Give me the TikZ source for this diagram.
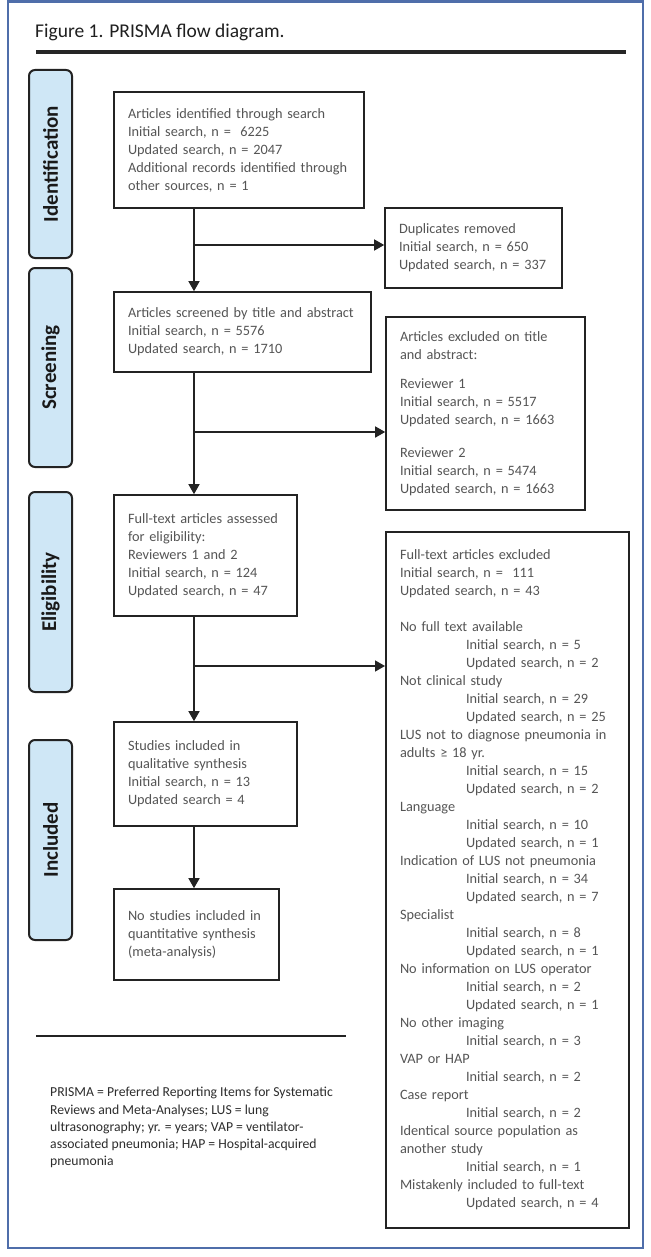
\documentclass[tikz,border=0pt]{standalone}
\usepackage{fontspec}
\setmainfont{Carlito}
\usepackage{graphicx}
\usetikzlibrary{arrows.meta}
\definecolor{frameblue}{RGB}{79,110,170}
\definecolor{stagefill}{RGB}{207,231,246}
\definecolor{txtgray}{RGB}{85,85,85}
\definecolor{linedark}{RGB}{35,35,35}
\definecolor{notegray}{RGB}{45,45,45}
\newcommand{\indt}{\hspace*{66pt}}
\begin{document}
\begin{tikzpicture}[x=1pt,y=-1pt,
  box/.style={draw=linedark, line width=1.6pt, inner xsep=14pt, inner ysep=0pt, align=left, text=txtgray, font=\fontsize{14.3}{18}\selectfont},
  stage/.style={draw=linedark, fill=stagefill, line width=2pt, rounded corners=6pt, minimum width=43pt, inner sep=0pt, font=\fontsize{21}{24}\selectfont\bfseries, text=black!90},
  arr/.style={draw=linedark, line width=1.5pt, -{Triangle[length=10pt,width=11pt]}},
  rulestyle/.style={draw=linedark, line width=1.3pt}
]
\useasboundingbox (0,0) rectangle (650,1257);
\fill[white] (0,0) rectangle (650,1257);
\draw[frameblue, line width=2.5pt] (8,1.5) rectangle (643,1248);

% title
\node[anchor=base west, inner sep=0pt, font=\fontsize{19.5}{22}\selectfont, text=black!88] (title) at (35,38) {Figure 1. PRISMA flow diagram.};
\draw[black!85, line width=3.6pt] (36,52) -- (626,52);

% stages
\node[stage, minimum height=188pt] (s1) at (50.5,164) {\rotatebox{90}{Identification}};
\node[stage, minimum height=199pt] (s2) at (50.5,367.5) {\rotatebox{90}{Screening}};
\node[stage, minimum height=200pt] (s3) at (50.5,592) {\rotatebox{90}{Eligibility}};
\node[stage, minimum height=200pt] (s4) at (50.5,840) {\rotatebox{90}{Included}};

% main boxes
\node[box, text width=222pt, minimum height=116pt] (b1) at (239,150) {Articles identified through search\\Initial search, n =\ \ 6225\\Updated search, n = 2047\\Additional records identified through\\other sources, n = 1};
\node[box, text width=229pt, minimum height=80pt] (b2) at (242.5,332) {Articles screened by title and abstract\\Initial search, n = 5576\\Updated search, n = 1710};
\node[box, text width=155pt, minimum height=121pt] (b3) at (205.5,555.5) {Full-text articles assessed\\for eligibility:\\Reviewers 1 and 2\\Initial search, n = 124\\Updated search, n = 47};
\node[box, text width=155pt, minimum height=104pt] (b4) at (205.5,774) {Studies included in\\qualitative synthesis\\Initial search, n = 13\\Updated search = 4};
\node[box, text width=137pt, minimum height=91pt] (b5) at (196.5,934.5) {No studies included in\\quantitative synthesis\\(meta-analysis)};

% side boxes
\node[box, text width=149pt, minimum height=80pt] (dup) at (473.5,248) {Duplicates removed\\Initial search, n = 650\\Updated search, n = 337};
\node[box, text width=171pt, minimum height=193pt] (exta) at (485.5,413.5) {Articles excluded on title\\and abstract:\\[11pt]Reviewer 1\\Initial search, n = 5517\\Updated search, n = 1663\\[15pt]Reviewer 2\\Initial search, n = 5474\\Updated search, n = 1663};
\node[box, line width=2pt, text width=215pt, minimum height=696pt] (exft) at (507.5,880) {Full-text articles excluded\\Initial search, n =\ \ 111\\Updated search, n = 43\\[18pt]No full text available\\\indt Initial search, n = 5\\\indt Updated search, n = 2\\Not clinical study\\\indt Initial search, n = 29\\\indt Updated search, n = 25\\LUS not to diagnose pneumonia in\\adults ≥ 18 yr.\\\indt Initial search, n = 15\\\indt Updated search, n = 2\\Language\\\indt Initial search, n = 10\\\indt Updated search, n = 1\\Indication of LUS not pneumonia\\\indt Initial search, n = 34\\\indt Updated search, n = 7\\Specialist\\\indt Initial search, n = 8\\\indt Updated search, n = 1\\No information on LUS operator\\\indt Initial search, n = 2\\\indt Updated search, n = 1\\No other imaging\\\indt Initial search, n = 3\\VAP or HAP\\\indt Initial search, n = 2\\Case report\\\indt Initial search, n = 2\\Identical source population as\\another study\\\indt Initial search, n = 1\\Mistakenly included to full-text\\\indt Updated search, n = 4};

% connectors
\coordinate (ax) at (194,0);
\coordinate (j1) at (194,245);
\coordinate (j2) at (194,432);
\coordinate (j3) at (194,666);
\draw[arr] (b1.south -| ax) -- (b2.north -| ax);
\draw[arr] (b2.south -| ax) -- (b3.north -| ax);
\draw[arr] (b3.south -| ax) -- (b4.north -| ax);
\draw[arr] (b4.south -| ax) -- (b5.north -| ax);
\draw[arr] (j1) -- (j1 -| dup.west);
\draw[arr] (j2) -- (j2 -| exta.west);
\draw[arr] (j3) -- (j3 -| exft.west);

% footnote
\draw[rulestyle] (36,1036) -- (346,1036);
\node[anchor=north west, inner sep=0pt, align=left, font=\fontsize{13.7}{17.3}\selectfont, text=notegray] (note) at (50,1087) {PRISMA = Preferred Reporting Items for Systematic\\Reviews and Meta-Analyses; LUS = lung\\ultrasonography; yr. = years; VAP = ventilator-\\associated pneumonia; HAP = Hospital-acquired\\pneumonia};
\end{tikzpicture}
\end{document}
